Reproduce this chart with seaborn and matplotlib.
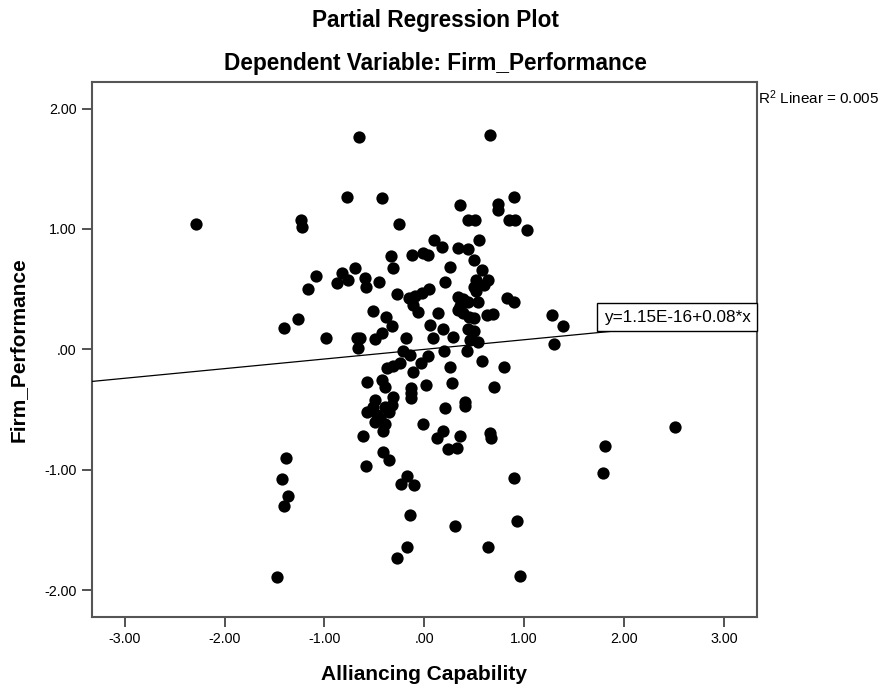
import numpy as np
import pandas as pd
import seaborn as sns
import matplotlib.pyplot as plt
from matplotlib.ticker import FuncFormatter

# partial residuals
alliancing = [
    -2.285, -0.651, 0.658, -0.778, -0.424, -1.235, -1.225, -0.254, 0.358, 0.735,
    0.741, 0.894, 0.441, 0.508, 0.849, 0.904, 1.026, 0.097, 0.177, 0.550,
    0.343, 0.438, -0.329, -0.311, -0.126, -0.016, 0.040, 0.500, 0.258, -0.694,
    -0.820, -1.082, -0.873, -0.765, -0.594, -0.579, -0.454, -1.168, 0.212, -0.277,
    0.575, 0.643, 0.523, 0.503, 0.518, 0.601, -0.153, -0.088, -0.018, 0.047,
    -0.108, -0.058, 0.140, 0.343, 0.393, 0.443, 0.541, 0.358, 0.343, 0.391,
    0.453, 0.503, 0.633, 0.691, 0.829, 0.897, 1.277, 1.385, 1.302, -0.516,
    -0.380, -0.324, -1.266, -1.409, -0.982, -0.677, -0.644, -0.664, -0.494, -0.427,
    -0.186, -0.213, -0.143, 0.054, 0.190, 0.090, 0.291, 0.441, 0.503, 0.458,
    0.538, 0.197, 0.425, 0.040, 0.581, -0.028, -0.110, -0.377, -0.311, -0.243,
    -0.571, -0.427, -0.394, -0.133, -0.128, -0.135, 0.017, -0.311, -0.327, -0.354,
    -0.394, -0.494, -0.511, -0.577, -0.477, -0.494, -0.444, -0.394, -0.411, -0.611,
    -0.010, 0.207, 0.187, 0.130, 0.242, -0.414, -0.348, -0.581, 0.253, 0.275,
    0.797, 0.698, 0.408, 0.408, 0.358, 0.325, 0.663, 0.665, -0.176, -0.233,
    -0.100, -0.143, 0.310, -0.176, -0.271, 0.641, 0.901, 0.926, 0.959, -1.386,
    -1.423, -1.363, -1.406, -1.479, 1.811, 1.788, 2.512,
]
firm_perf = [
    1.041, 1.761, 1.780, 1.267, 1.254, 1.074, 1.018, 1.041, 1.199, 1.207,
    1.161, 1.265, 1.078, 1.078, 1.078, 1.078, 0.991, 0.908, 0.850, 0.905,
    0.839, 0.833, 0.775, 0.673, 0.786, 0.800, 0.787, 0.742, 0.681, 0.673,
    0.631, 0.609, 0.555, 0.576, 0.596, 0.520, 0.561, 0.498, 0.561, 0.458,
    0.659, 0.580, 0.576, 0.520, 0.488, 0.534, 0.430, 0.440, 0.465, 0.502,
    0.372, 0.310, 0.304, 0.437, 0.422, 0.395, 0.391, 0.364, 0.326, 0.299,
    0.271, 0.257, 0.285, 0.292, 0.428, 0.395, 0.285, 0.194, 0.048, 0.321,
    0.267, 0.192, 0.249, 0.174, 0.096, 0.091, 0.098, 0.008, 0.088, 0.133,
    0.094, -0.014, -0.043, 0.204, 0.173, 0.094, 0.105, 0.169, 0.152, 0.077,
    0.063, -0.012, -0.010, -0.058, -0.097, -0.110, -0.186, -0.158, -0.135, -0.114,
    -0.269, -0.255, -0.313, -0.317, -0.359, -0.407, -0.297, -0.394, -0.463, -0.517,
    -0.477, -0.421, -0.477, -0.523, -0.546, -0.601, -0.573, -0.623, -0.679, -0.716,
    -0.619, -0.490, -0.679, -0.739, -0.828, -0.855, -0.919, -0.969, -0.147, -0.282,
    -0.145, -0.311, -0.435, -0.467, -0.716, -0.816, -0.695, -0.737, -1.055, -1.119,
    -1.123, -1.376, -1.468, -1.645, -1.736, -1.645, -1.065, -1.426, -1.883, -0.905,
    -1.080, -1.216, -1.299, -1.889, -0.801, -1.025, -0.643,
]

intercept = 1.15e-16
slope = 0.08
r2_text = r"R$^2$ Linear = 0.005"
eq_text = "y=1.15E-16+0.08*x"
xticks = [-3, -2, -1, 0, 1, 2, 3]
yticks = [-2, -1, 0, 1, 2]

df = pd.DataFrame({"Alliancing Capability": alliancing, "Firm_Performance": firm_perf})

sns.set_style("white")
plt.rcParams["font.family"] = ["Liberation Sans", "DejaVu Sans"]
plt.rcParams["mathtext.default"] = "regular"
plt.rcParams["text.color"] = "black"
plt.rcParams["axes.labelcolor"] = "black"

fig = plt.figure(figsize=(8.82, 6.87), dpi=100)
ax = fig.add_axes([0.104, 0.1023, 0.754, 0.7783])

sns.scatterplot(data=df, x="Alliancing Capability", y="Firm_Performance",
                color="black", s=78, linewidth=0, ax=ax, zorder=3)
ax.axline((0, intercept), slope=slope, color="black", lw=0.9, zorder=4)

ax.set_xlim(-3.33, 3.33)
ax.set_ylim(-2.22, 2.22)
ax.set_xticks(xticks)
ax.set_yticks(yticks)

def fmt(v, pos):
    s = f"{v:.2f}"
    if abs(v) < 1:
        s = s.replace("0.", ".", 1)
    return s

ax.xaxis.set_major_formatter(FuncFormatter(fmt))
ax.yaxis.set_major_formatter(FuncFormatter(fmt))
ax.tick_params(axis="both", direction="out", length=7, width=1.3, color="#444444",
               labelsize=10.3, labelcolor="black", bottom=True, left=True, pad=4)
for sp in ax.spines.values():
    sp.set_color("#555555")
    sp.set_linewidth(1.5)

ax.set_xlabel("Alliancing Capability", fontsize=15, fontweight="bold", labelpad=14)
ax.set_ylabel("Firm_Performance", fontsize=15, fontweight="bold", labelpad=12)

ax.text(0.991, 0.5605, eq_text, transform=ax.transAxes, ha="right", va="center",
        fontsize=12.3, zorder=5,
        bbox=dict(boxstyle="square,pad=0.38", fc="white", ec="black", lw=1))

fig.text(0.859, 0.858, r2_text, ha="left", va="center", fontsize=11)
fig.text(0.494, 0.970, "Partial Regression Plot", ha="center", va="center",
         fontsize=16.3, fontweight="bold")
fig.text(0.494, 0.908, "Dependent Variable: Firm_Performance", ha="center", va="center",
         fontsize=16.3, fontweight="bold")

fig.savefig("out.png", dpi=100)
